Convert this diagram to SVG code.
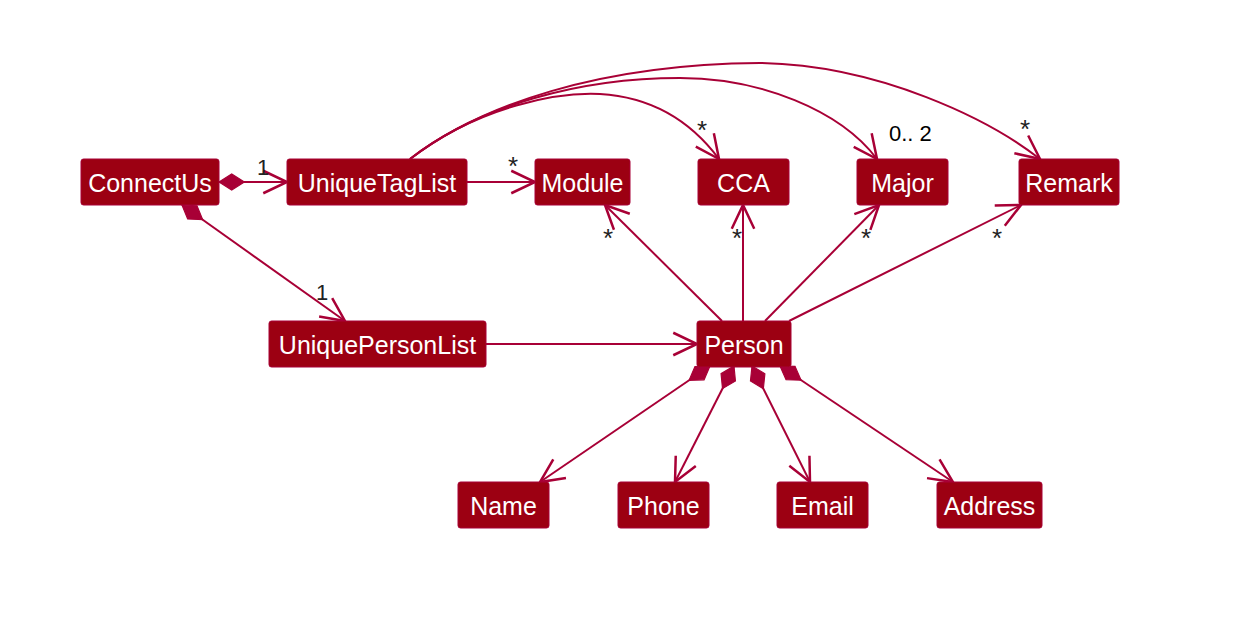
<svg xmlns="http://www.w3.org/2000/svg" width="1247" height="620" viewBox="0 0 1247 620">
<defs>
<style>
.node rect{fill:#9C0012;stroke:#A80036;stroke-width:1}
.node text{fill:#FFFFFF;font-family:"Liberation Sans",Arial,sans-serif;font-size:25px;text-anchor:middle}
.conn path{fill:none;stroke:#A80036;stroke-width:2}
.lbl{fill:#222222;font-family:"Liberation Sans",Arial,sans-serif}
.one{font-size:22px}
.star{font-size:26px;text-anchor:middle}
.rng{fill:#000000;font-family:"Liberation Sans",Arial,sans-serif;font-size:22px}
</style>
<marker id="arr" markerUnits="userSpaceOnUse" orient="auto" refX="0" refY="0" markerWidth="30" markerHeight="30" viewBox="-22 -12 24 24" overflow="visible">
<path d="M-19,-9 L0,0 L-19,9" fill="none" stroke="#A80036" stroke-width="2"/>
</marker>
<marker id="dia" markerUnits="userSpaceOnUse" orient="auto" refX="0" refY="0" markerWidth="30" markerHeight="30" viewBox="-2 -8 26 16" overflow="visible">
<path d="M0,0 L11,-7 L22,0 L11,7 Z" fill="#A80036" stroke="#A80036" stroke-width="1"/>
</marker>
</defs>
<rect x="0" y="0" width="1247" height="620" fill="#FFFFFF"/>
<g id="connectors" class="conn">
<path d="M219,182 L287,182" marker-start="url(#dia)" marker-end="url(#arr)"/>
<path d="M182,205 L345,321" marker-start="url(#dia)" marker-end="url(#arr)"/>
<path d="M467,182 L535,182" marker-end="url(#arr)"/>
<path d="M410,159 C480,105 560,92 600,94 C650,97 690,120 719,159" marker-end="url(#arr)"/>
<path d="M410,159 C480,105 580,78 680,78 C760,78 840,110 877,159" marker-end="url(#arr)"/>
<path d="M410,159 C480,105 600,64 760,63 C880,65 990,120 1040,159" marker-end="url(#arr)"/>
<path d="M486,344 L697,344" marker-end="url(#arr)"/>
<path d="M722,321 L605,205" marker-end="url(#arr)"/>
<path d="M743,321 L743,205" marker-end="url(#arr)"/>
<path d="M765,321 L879,205" marker-end="url(#arr)"/>
<path d="M789,321 L1021,205" marker-end="url(#arr)"/>
<path d="M710,366 L540,482" marker-start="url(#dia)" marker-end="url(#arr)"/>
<path d="M734,366 L675,482" marker-start="url(#dia)" marker-end="url(#arr)"/>
<path d="M752,366 L810,482" marker-start="url(#dia)" marker-end="url(#arr)"/>
<path d="M780,366 L953,482" marker-start="url(#dia)" marker-end="url(#arr)"/>
</g>
<g id="labels">
<text class="lbl one" x="257" y="175">1</text>
<text class="lbl one" x="316" y="300">1</text>
<text class="lbl star" x="513" y="175">*</text>
<text class="lbl star" x="702" y="139">*</text>
<text class="lbl star" x="1025" y="138">*</text>
<text class="lbl star" x="608" y="247">*</text>
<text class="lbl star" x="737" y="247">*</text>
<text class="lbl star" x="866" y="247">*</text>
<text class="lbl star" x="997" y="247">*</text>
<text class="rng" x="889" y="141">0.. 2</text>
</g>
<g id="ConnectUs" class="node"><rect x="81" y="159" width="138" height="46" rx="2.5"/><text x="150" y="192">ConnectUs</text></g>
<g id="UniqueTagList" class="node"><rect x="287" y="159" width="180" height="46" rx="2.5"/><text x="377" y="192">UniqueTagList</text></g>
<g id="Module" class="node"><rect x="535" y="159" width="95" height="46" rx="2.5"/><text x="582.5" y="192">Module</text></g>
<g id="CCA" class="node"><rect x="698" y="159" width="91" height="46" rx="2.5"/><text x="743.5" y="192">CCA</text></g>
<g id="Major" class="node"><rect x="857" y="159" width="91" height="46" rx="2.5"/><text x="902.5" y="192">Major</text></g>
<g id="Remark" class="node"><rect x="1019" y="159" width="100" height="46" rx="2.5"/><text x="1069" y="192">Remark</text></g>
<g id="UniquePersonList" class="node"><rect x="269" y="321" width="217" height="46" rx="2.5"/><text x="377.5" y="354">UniquePersonList</text></g>
<g id="Person" class="node"><rect x="697" y="321" width="94" height="46" rx="2.5"/><text x="744" y="354">Person</text></g>
<g id="Name" class="node"><rect x="458" y="482" width="91" height="46" rx="2.5"/><text x="503.5" y="515">Name</text></g>
<g id="Phone" class="node"><rect x="618" y="482" width="91" height="46" rx="2.5"/><text x="663.5" y="515">Phone</text></g>
<g id="Email" class="node"><rect x="777" y="482" width="91" height="46" rx="2.5"/><text x="822.5" y="515">Email</text></g>
<g id="Address" class="node"><rect x="937" y="482" width="105" height="46" rx="2.5"/><text x="989.5" y="515">Address</text></g>
</svg>
